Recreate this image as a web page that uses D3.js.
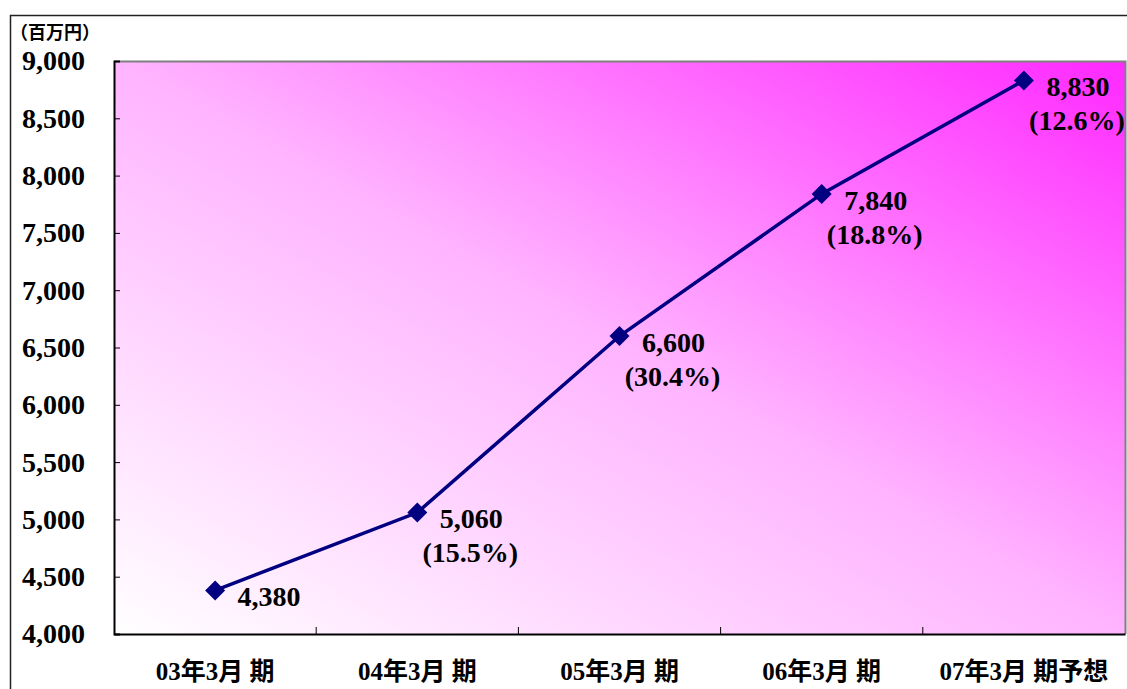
<!DOCTYPE html>
<html><head><meta charset="utf-8">
<script src="https://cdn.jsdelivr.net/npm/d3@7"></script>
<style>body{margin:0;background:#fff;}svg{display:block;}
.sf{font-family:"Liberation Serif","DejaVu Serif","Noto Sans CJK JP",serif;font-weight:bold;}
</style>
</head><body>
<svg id="c" width="1127" height="689"></svg>
<script>
const categories = ["03年3月 期","04年3月 期","05年3月 期","06年3月 期","07年3月 期予想"];
const values = [4380, 5060, 6600, 7840, 8830];
const growth = [null, "(15.5%)", "(30.4%)", "(18.8%)", "(12.6%)"];
const yTicks = [4000,4500,5000,5500,6000,6500,7000,7500,8000,8500,9000];
const unitLabel = "（百万円）";

const svg = d3.select("#c");
const L=114, T=61, R=1125, B=634;
const x = d3.scaleBand().domain(categories).range([L,R]).padding(0);
const y = d3.scaleLinear().domain([4000,9000]).range([B,T]);

svg.append("path").attr("d",`M10.5,689 V15.5 H1127`).attr("fill","none").attr("stroke","#222").attr("stroke-width",1.5);

const defs = svg.append("defs");
const g = defs.append("linearGradient").attr("id","bg").attr("x1",0).attr("y1",1).attr("x2",1).attr("y2",0);
g.append("stop").attr("offset",0).attr("stop-color","#ffffff");
g.append("stop").attr("offset",0.5).attr("stop-color","#ffb4ff");
g.append("stop").attr("offset",1).attr("stop-color","#ff28ff");

svg.append("rect").attr("x",L).attr("y",T).attr("width",R-L).attr("height",B-T).attr("fill","url(#bg)");
svg.append("path").attr("d",`M${L},${T+0.5} H${R+0.5} V${B}`).attr("fill","none").attr("stroke","#808080").attr("stroke-width",2);

const ya = svg.append("g").attr("transform",`translate(${L},0)`)
  .call(d3.axisLeft(y).tickValues(yTicks).tickSize(-6).tickPadding(29).tickFormat(d3.format(",")));
ya.attr("font-family",null).attr("font-size",null);
ya.select(".domain").attr("stroke","#000").attr("stroke-width",2);
ya.selectAll(".tick line").attr("stroke","#000").attr("stroke-width",1);
ya.selectAll(".tick text").attr("class","sf").style("font-size","28px").attr("fill","#000");

const xa = svg.append("g").attr("transform",`translate(0,${B})`)
  .call(d3.axisBottom(x).tickSize(0).tickPadding(27));
xa.attr("font-family",null).attr("font-size",null);
xa.select(".domain").attr("stroke","#000").attr("stroke-width",2);
xa.selectAll(".tick text").attr("class","sf").style("font-size","25px").attr("fill","#000").attr("dy","0.75em");
const bounds = categories.map(c=>x(c)).slice(1);
svg.append("g").selectAll("line").data(bounds).join("line")
  .attr("x1",d=>d).attr("x2",d=>d).attr("y1",B).attr("y2",B-7).attr("stroke","#000").attr("stroke-width",1);

svg.append("text").attr("x",10).attr("y",39).style("font-family","'Noto Sans CJK JP',sans-serif")
  .style("font-weight","bold").style("font-size","18px").attr("fill","#000").text(unitLabel);

const cx = (d,i)=>x(categories[i])+x.bandwidth()/2;
svg.append("path").datum(values)
  .attr("d",d3.line().x((d,i)=>cx(d,i)).y(d=>y(d)))
  .attr("fill","none").attr("stroke","#000080").attr("stroke-width",3.5);
svg.append("g").selectAll("path").data(values).join("path")
  .attr("d",d3.symbol(d3.symbolSquare,200))
  .attr("transform",(d,i)=>`translate(${cx(d,i)},${y(d)}) rotate(45)`)
  .attr("fill","#000080");

const lab = svg.append("g").attr("class","sf").style("font-size","28px").attr("fill","#000").attr("text-anchor","middle");
values.forEach((v,i)=>{
  lab.append("text").attr("x",cx(v,i)+54).attr("y",y(v)+6).attr("dy","0.35em").text(d3.format(",")(v));
  if(growth[i]) lab.append("text").attr("x",cx(v,i)+53).attr("y",y(v)+40).attr("dy","0.35em").text(growth[i]);
});
</script>
</body></html>
